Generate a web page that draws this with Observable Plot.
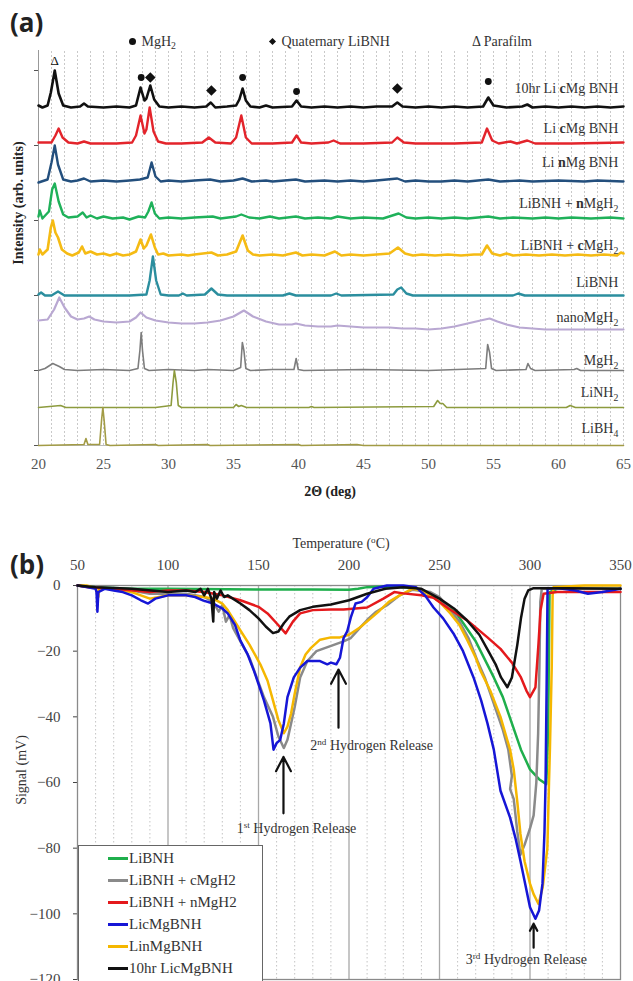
<!DOCTYPE html>
<html><head><meta charset="utf-8">
<script src="https://cdn.jsdelivr.net/npm/d3@7"></script>
<script src="https://cdn.jsdelivr.net/npm/@observablehq/plot@0.6"></script>
<style>
body{margin:0;background:#fff;}
#root{position:relative;width:633px;height:981px;overflow:hidden;font-family:"Liberation Serif","Times New Roman",Times,"DejaVu Serif",serif;color:#333;}
.abs{position:absolute;white-space:nowrap;line-height:1;}
.panel{position:absolute;left:0;}
.tag{font-family:"Open Sans",sans-serif;font-weight:700;font-size:26px;color:#222;}
sub{font-size:70%;vertical-align:-3px;line-height:0;}
sup{font-size:65%;vertical-align:5px;line-height:0;}
.rot{transform:translate(-50%,-50%) rotate(-90deg);}
.ctr{transform:translate(-50%,-50%);}
.dotg{display:inline-block;width:7px;height:7px;border-radius:50%;background:#111;vertical-align:1px;margin-right:2px;}
.diag{display:inline-block;width:5px;height:5px;background:#111;transform:rotate(45deg);vertical-align:2px;margin-right:3px;margin-left:1px;}
#legB{position:absolute;left:78px;top:845px;width:185px;height:150px;border:1px solid #666;background:#fff;box-sizing:border-box;font-size:15px;}
#legB .row{position:absolute;left:0;height:20px;display:flex;align-items:center;}
#legB .sw{display:inline-block;width:20px;height:3px;margin-left:29px;margin-right:1px;}
</style></head><body><div id="root">
<div id="panelA" class="panel" style="top:0"></div>
<div id="panelB" class="panel" style="top:500px"></div>
<div class="abs tag" style="left:10px;top:9px">(a)</div>
<div class="abs tag" style="left:10px;top:551px">(b)</div>
<div class="abs" style="left:129px;top:35px;font-size:14px"><span class="dotg"></span> MgH<sub>2</sub></div>
<div class="abs" style="left:269px;top:35px;font-size:14px"><span class="diag"></span> Quaternary LiBNH</div>
<div class="abs" style="left:472px;top:35px;font-size:14px">Δ Parafilm</div>
<div class="abs rot" style="left:19px;top:203px;font-size:14px;font-weight:bold;color:#222">Intensity (arb. units)</div>
<div class="abs ctr" style="left:330px;top:492px;font-size:14px;font-weight:bold;color:#222">2Θ (deg)</div>
<div class="abs ctr" style="left:341px;top:544px;font-size:14px">Temperature (<sup>o</sup>C)</div>
<div class="abs rot" style="left:22px;top:770px;font-size:14px">Signal (mV)</div>
<div id="legB"></div>
</div>
<script>
const SERIF = '"Liberation Serif", "Times New Roman", Times, "DejaVu Serif", serif';
// ---------------- Panel (a): XRD ----------------
const xrdNames = ["10hr Li *c*Mg BNH","Li *c*Mg BNH","Li *n*Mg BNH","LiBNH + *n*MgH_2","LiBNH + *c*MgH_2","LiBNH","nanoMgH_2","MgH_2","LiNH_2","LiBH_4"];
const xrdOffsets = [338, 302, 263, 226, 188, 150, 116, 75, 38, 0];
const xrdLabelY = [357, 317, 283, 242, 200, 163, 128, 85, 53, 17];
const xrdColors = ["#111111","#e3242b","#234f7d","#1fb15a","#f5bb14","#2b8e9e","#b9a8d2","#7d7d7d","#8d9b3e","#a29b45"];
const xrdWidths = [2.6, 2.4, 2.4, 2.4, 2.6, 2.4, 2.2, 1.6, 1.6, 1.6];

const xrd10hr = [[20,2],[20.3,0],[20.7,2],[20.95,15],[21.25,37],[21.55,14],[21.9,2],[22.5,0],[23.2,1],[23.5,4],[23.8,1],[25,0],[26,1],[27,0],[27.5,2],[27.85,20],[28.15,7],[28.3,9],[28.6,22],[28.9,8],[29.3,1],[30,0],[31,1],[32,0],[32.9,1],[33.25,5],[33.6,0],[34.5,1],[35.2,2],[35.45,8],[35.7,19],[35.95,7],[36.3,1],[37,0],[37.5,2],[38,0],[39.5,1],[39.85,7],[40.2,1],[41,0],[42,1],[43,0],[44,1],[45,0],[46,1],[47.2,1],[47.6,5],[48,1],[49,0],[50,1],[51,0],[52,1],[53,0],[54.2,1],[54.6,10],[55,2],[56,0],[57.2,1],[57.6,3],[58,0],[59,1],[60,0],[61,1],[62,0],[63,1],[64,0],[65,1]];
const xrdLicMg = [[20,1],[21,1],[21.3,8],[21.55,15],[21.85,6],[22.3,1],[23,0],[23.5,2],[24,0],[26,0],[27.2,1],[27.5,8],[27.85,28],[28.15,10],[28.3,14],[28.55,36],[28.85,12],[29.2,2],[29.8,0],[31,0],[32.6,1],[33.1,6],[33.6,1],[34.8,0],[35.2,6],[35.6,28],[35.95,6],[36.4,0],[38,0],[39.5,1],[39.85,8],[40.2,1],[41,0],[42.3,1],[42.7,3],[43.2,0],[45,0],[47.2,1],[47.6,6],[48.1,1],[49,0],[52,0],[54.1,1],[54.5,15],[54.9,3],[55.4,0],[56.3,2],[56.8,0],[57.6,3],[58.2,0],[61,0],[65,1]];
const xrdLinMg = [[20,0],[20.7,3],[21,20],[21.25,37],[21.5,18],[21.9,3],[22.5,1],[23,2],[23.5,4],[24,1],[25,2],[26,1],[27,2],[27.8,3],[28.4,5],[28.7,20],[29,6],[29.4,1],[30,2],[31,1],[32,2],[33.2,3],[34,1],[35,2],[35.7,4],[36.4,1],[37.5,2],[38,1],[39.8,3],[40.5,1],[42,2],[43,1],[44,2],[45,1],[46,2],[47.6,4],[48.2,1],[49,2],[50,1],[51,1],[52,2],[53,1],[54.6,3],[55.5,1],[57,2],[58,1],[60,2],[62,1],[63,2],[65,1]];
const xrdBNHnMg = [[20,3],[20.1,9],[20.3,1],[20.8,8],[21.05,30],[21.25,36],[21.55,18],[21.9,5],[22.3,2],[23,3],[23.4,7],[23.7,2],[24,4],[24.5,1],[25,3],[25.7,1],[26.5,2],[27,0],[27.7,3],[28.2,2],[28.45,8],[28.7,17],[28.95,6],[29.3,1],[30,2],[31,1],[32,2],[33.4,3],[34,1],[35.2,3],[35.6,5],[36.2,2],[37,1],[37.8,3],[38.5,1],[39.8,3],[40.5,1],[41.5,2],[42.5,1],[43,3],[44,1],[45,2],[46.5,1],[47.7,6],[48.3,2],[49,1],[50,2],[51,1],[52,2],[53,1],[54.6,3],[55.5,1],[56.5,2],[58,1],[59,2],[60,1],[61,2],[62.5,1],[64,2],[65,1]];
const xrdBNHcMg = [[20,3],[20.1,8],[20.3,3],[20.7,8],[20.95,30],[21.1,37],[21.3,25],[21.5,20],[21.8,8],[22.2,4],[22.6,2],[23.1,5],[23.35,11],[23.6,4],[24,6],[24.5,3],[25,4],[25.5,2],[26,4],[26.5,2],[27,3],[27.5,6],[27.85,18],[28.1,9],[28.3,12],[28.65,23],[28.95,10],[29.2,3],[29.6,4],[30,2],[31,3],[31.5,2],[32,3],[33.3,5],[33.8,2],[34.5,3],[35.2,6],[35.7,22],[36.1,7],[36.5,3],[37,2],[38,3],[38.8,2],[39.8,5],[40.3,2],[41,3],[42,2],[42.8,6],[43.3,2],[44,3],[45,2],[46,3],[47,4],[47.65,10],[48.2,4],[48.8,2],[49.5,3],[50.5,2],[51.5,3],[52.5,2],[53.5,3],[54.1,3],[54.5,12],[54.9,4],[55.5,2],[56,4],[56.5,2],[57.5,3],[58.5,2],[59.5,3],[60.5,2],[61.5,3],[62.5,2],[63.5,3],[64.5,2],[64.8,5],[65,4]];
const xrdLiBNH = [[20,1],[20.2,3],[20.5,0],[21,0],[21.5,4],[22,0],[27,0],[28.3,1],[28.55,15],[28.8,39],[29.05,15],[29.4,1],[30,0],[30.8,0],[31.1,2],[31.4,0],[32.8,1],[33.3,7],[33.8,1],[34.5,0],[38.8,0],[39.3,2],[39.8,0],[42.5,0],[42.9,2],[43.3,0],[47.3,1],[47.6,6],[47.9,8],[48.3,2],[48.8,0],[51,0],[55,0],[56.5,0],[56.9,2],[57.4,0],[60,0],[65,0]];
const xrdNanoMgH2 = [[20,9],[20.7,10],[21.2,20],[21.6,32],[22,22],[22.5,13],[23,10],[23.5,11],[23.9,13],[24.3,10],[25,8],[26,7],[27,8],[27.5,12],[27.85,17],[28.3,12],[29,9],[30,7],[31,6],[32,6],[33,7],[34,9],[35,13],[35.8,19],[36.5,13],[37.5,8],[38.5,5],[39.5,5],[39.8,6],[40.5,4],[41.5,3],[42.5,3],[43,4],[44,3],[45,2],[46,2],[47,2],[48,1],[49,1],[50,0],[51,1],[52,3],[53,6],[54,9],[54.7,11],[55.3,8],[56,5],[57,2],[58,1],[59,0],[61,0],[65,0]];
const xrdMgH2 = [[20,0],[20.5,2],[21.1,7],[21.6,4],[22,1],[23,0],[25,1],[27,0],[27.65,2],[27.8,20],[27.9,38],[28.0,20],[28.15,2],[28.5,0],[30,1],[32,0],[33,1],[35,0],[35.55,3],[35.68,28],[35.8,20],[35.95,2],[36.3,0],[38,1],[39.65,1],[39.82,12],[39.98,1],[40.4,0],[45,1],[50,0],[54.4,2],[54.55,26],[54.7,18],[54.85,2],[55.2,0],[57.5,1],[57.65,7],[57.85,2],[58.2,0],[61.2,1],[61.4,2],[61.7,0],[65,0]];
const xrdLiNH2 = [[20,0],[21.7,2],[22.1,0],[25,0],[29,0],[30.2,2],[30.35,25],[30.45,37],[30.6,25],[30.75,2],[31,0],[35,0],[35.2,3],[35.4,1],[35.6,2],[36,0],[40.8,0],[41,1],[41.2,0],[50.4,1],[50.7,7],[50.9,4],[51.1,4],[51.4,0],[60.6,0],[60.9,2],[61.3,0],[65,0]];
const xrdLiBH4 = [[20,0],[23.5,1],[23.65,7],[23.8,1],[24.7,1],[24.85,25],[24.95,38],[25.05,25],[25.2,1],[25.5,0],[29,1],[29.2,0],[33,1],[33.2,0],[40,1],[40.2,0],[44.5,1],[45,0],[65,0]];
const xrdSeries = [xrd10hr, xrdLicMg, xrdLinMg, xrdBNHnMg, xrdBNHcMg, xrdLiBNH, xrdNanoMgH2, xrdMgH2, xrdLiNH2, xrdLiBH4];

// peak markers over the top trace: [2theta, height, kind]
const peakMarks = [[21.25,385,"parafilm"],[27.9,368,"MgH2"],[28.6,368,"LiBNH"],[33.3,355,"LiBNH"],[35.7,368,"MgH2"],[39.85,354,"MgH2"],[47.6,357,"LiBNH"],[54.6,364,"MgH2"]];
const xTicksA = [20,25,30,35,40,45,50,55,60,65];
const gridA = d3.range(20, 66, 1);
const yTicksA = [0,75,150,225,300,375];

// ---------------- Panel (b): DSC ----------------
const dscNames = ["LiBNH","LiBNH + cMgH2","LiBNH + nMgH2","LicMgBNH","LinMgBNH","10hr LicMgBNH"];
const dscColors = ["#1faf4c","#8a8a8a","#e4191c","#1616d6","#f5b700","#111111"];
const dscLiBNH = [[50,0],[60,-0.5],[80,-1],[100,-1],[150,-1.2],[180,-1.2],[200,-1.3],[205,-1],[210,-0.5],[220,-0.3],[230,-0.5],[240,-1.5],[250,-4],[260,-9],[270,-17],[280,-28],[285,-34],[290,-42],[295,-50],[300,-56],[305,-59],[309,-60.5],[310,-45],[310.8,-2],[315,-1],[330,-1],[350,-1]];
const dscCMg = [[50,0],[60,-0.5],[70,-1],[80,-1.5],[90,-2.5],[100,-2.5],[110,-2.5],[115,-3],[120,-3.5],[125,-5],[128,-8],[130,-6],[132,-11],[134,-9],[136,-13],[140,-17],[145,-22],[149,-28],[153,-34],[158,-40],[161,-46],[164,-49.5],[166,-47],[168,-42],[170,-37],[173,-28],[177,-23],[182,-20],[187,-19],[192,-18],[197,-17],[201,-16],[205,-13.5],[210,-10.5],[215,-8],[221,-6],[228,-3],[235,-1.3],[245,-2],[250,-3.5],[256,-7.5],[261,-11],[266,-16],[271,-23],[275,-28],[280,-36],[285,-44],[288,-50],[290,-58],[289,-62],[291,-65],[293,-75],[294.7,-82],[297,-79],[300,-74],[302,-70],[303.5,-60],[304.5,-45],[305.2,-25],[305.7,-5],[306.5,-1],[320,-1],[350,-1]];
const dscNMg = [[50,0],[57,-0.6],[70,-1],[81,-1.5],[90,-2],[100,-1.5],[110,-1.5],[120,-2],[130,-3],[140,-4.5],[150,-6.5],[155,-8.5],[160,-11.5],[165,-14.6],[169,-11],[173,-8.5],[180,-7.5],[190,-7.3],[197,-7.3],[210,-6.7],[219,-4],[225,-2],[230,-2.4],[240,-3],[246.7,-3.7],[255,-7],[265.5,-10.7],[276.5,-15.8],[283.7,-19.3],[290,-23.5],[295,-28],[298,-32],[300,-34],[303,-31],[304.7,-17.7],[305.8,-7.6],[307.5,-2.5],[315,-2],[330,-2],[350,-2]];
const dscLicMg = [[50,0],[55,-0.5],[60,-1],[60.5,-2],[61,-8],[61.5,-2],[65,-1],[70,-1.5],[75,-2],[80,-3],[85,-4.5],[89,-5.5],[93,-4],[100,-3],[110,-3],[115,-3.5],[119.6,-4.6],[125,-5.5],[130,-7],[133,-8.5],[137,-12],[140,-16.8],[144,-21],[147.5,-26],[150,-30],[153,-35],[156.6,-42],[158.3,-50],[160,-48],[162,-47],[164,-42],[166,-34],[169.5,-28],[173,-25],[177,-23],[184,-23],[188,-24],[190,-23.5],[193,-24],[195,-22],[197,-16],[199,-14],[201,-9.7],[203.6,-5.5],[207,-5],[210,-3.6],[213.6,-1],[221,0],[230,0],[237,-0.5],[242,-3],[246.7,-6.7],[252,-10],[257.7,-14.6],[263,-20],[268.8,-28],[273,-35],[276.5,-42],[280,-50],[283.7,-62.5],[289,-70.7],[292,-77],[294.7,-83.8],[297,-90],[300,-98],[303,-101.5],[305,-99],[306.9,-90.8],[308,-75],[308.6,-60],[309.2,-30],[309.7,-1],[315,-0.8],[325,-1.5],[332,-2.5],[340,-2],[350,-1]];
const dscLinMg = [[50,0],[55,0],[60,-0.8],[61.5,-3.5],[62,-0.8],[70,-1.2],[80,-2],[90,-4],[95,-3.5],[100,-3],[110,-3],[120,-3.5],[125,-4],[130,-5.5],[133,-7.5],[137,-11],[140,-13.7],[145,-18],[151,-24],[155,-29],[158,-35],[161,-41],[164,-45],[166,-43],[168,-39],[170,-33],[173,-25],[176,-21],[179,-19],[184,-16.5],[190,-15.8],[195,-15.8],[200,-15],[206,-12.8],[212,-10],[217,-7.6],[222,-5],[228,-3],[235,-1],[240,-1.5],[245,-3],[250,-5],[256,-8.5],[261,-12],[265.5,-16.8],[270,-22],[272.7,-26],[278,-32],[283.7,-40],[289,-50],[291,-56],[293,-66],[294.7,-75.6],[297,-84],[300,-90.8],[302,-94],[304.7,-97],[307,-92],[309.6,-80],[310.5,-60],[311,-50],[312,-25],[312.5,-3],[313,-0.5],[330,0],[350,0]];
const dsc10hr = [[50,0],[60,-0.5],[80,-1],[100,-2],[110,-1.5],[115,-2],[118,-1],[120,-3],[122,-1],[124,-4],[125,-11],[125.5,-2],[127,-4],[129,-1.5],[131,-3.5],[133,-3],[140,-5.5],[145,-7.5],[150,-10],[154,-12.5],[158,-14.5],[161,-14],[164,-11.5],[167,-9.5],[173,-7.5],[180,-6.5],[190,-5.8],[200,-4.5],[210,-2.5],[220,-1],[230,-0.5],[240,-1],[250,-4],[258,-7],[265,-10.5],[272,-15],[277,-20],[281,-24],[284,-28],[287.5,-31],[290,-28],[293,-18],[295,-10],[297,-4],[299,-1.5],[302,-0.8],[320,-0.8],[350,-1]];
const dscSeries = [dscLiBNH, dscCMg, dscNMg, dscLicMg, dscLinMg, dsc10hr];
const dscDrawOrder = [0, 1, 4, 2, 3, 5];

const xTicksB = [50,100,150,200,250,300,350];
const majorGridB = [100,150,200,250,300];
const minorGridB = d3.range(60, 350, 10).filter(v => v % 50 !== 0);
const yTicksB = [-120,-100,-80,-60,-40,-20,0];

// annotations: text label positions and arrows (temperature, signal)
const releaseText = [
  {x: 171, y: -74, t: "1^st^ Hydrogen Release"},
  {x: 212.5, y: -48.7, t: "2^nd^ Hydrogen Release"},
  {x: 298, y: -114, t: "3^rd^ Hydrogen Release"}
];
const releaseArrows = [
  {x: 163.8, y1: -69.4, y2: -52.2},
  {x: 194.2, y1: -43.3, y2: -25.6},
  {x: 302, y1: -110.3, y2: -103.0}
];

// square diamond symbol (◆)
const squareDiamond = {draw(context, size) {
  const r = Math.sqrt(size) * 0.62;
  context.moveTo(0, -r); context.lineTo(r, 0); context.lineTo(0, r); context.lineTo(-r, 0); context.closePath();
}};

// ---------- build ----------
const xrdRows = [];
xrdSeries.forEach((pts, i) => pts.forEach(([x, v]) => xrdRows.push({name: xrdNames[i], i, x, y: xrdOffsets[i] + v})));
const xrdLabels = xrdNames.map((n, i) => ({n, y: xrdLabelY[i]}));

const plotA = Plot.plot({
  width: 633, height: 500,
  marginTop: 50, marginBottom: 55, marginLeft: 38, marginRight: 10,
  style: {fontFamily: SERIF, fontSize: "15px", color: "#555", background: "transparent"},
  x: {domain: [20, 65], ticks: xTicksA, tickSize: 0, tickPadding: 13, label: null},
  y: {domain: [0, 395], ticks: yTicksA, tickFormat: () => "", tickSize: 4, label: null},
  marks: [
    Plot.ruleX(gridA, {y1: 0, y2: 395, stroke: "#c9c9c9", strokeDasharray: "2,2", strokeWidth: 1}),
    Plot.ruleX([20], {y1: 0, y2: 395, stroke: "#999"}),
    Plot.ruleY([0], {stroke: "#bbb"}),
    ...xrdSeries.map((_, i) => Plot.line(xrdRows.filter(d => d.i === i), {x: "x", y: "y", stroke: xrdColors[i], strokeWidth: xrdWidths[i], strokeLinejoin: "round"})),
    Plot.dot(peakMarks.filter(d => d[2] === "MgH2"), {x: d => d[0], y: d => d[1], r: 3.4, fill: "#111", stroke: "none"}),
    Plot.dot(peakMarks.filter(d => d[2] === "LiBNH"), {x: d => d[0], y: d => d[1], r: 4.8, symbol: squareDiamond, fill: "#111", stroke: "none"}),
    Plot.text(peakMarks.filter(d => d[2] === "parafilm"), {x: d => d[0], y: d => d[1], text: () => "Δ", fontSize: 13, fill: "#111"}),
    Plot.text(xrdLabels, {x: 64.6, y: "y", text: "n", textAnchor: "end", fontSize: 14, fill: "#333"})
  ]
});
document.getElementById("panelA").append(plotA);

const dscRows = [];
dscSeries.forEach((pts, i) => pts.forEach(([x, v]) => dscRows.push({i, x, y: v})));

const plotB = Plot.plot({
  width: 633, height: 481,
  marginTop: 85, marginBottom: 2, marginLeft: 77, marginRight: 13,
  style: {fontFamily: SERIF, fontSize: "15px", color: "#444", background: "transparent"},
  x: {domain: [50, 350], axis: "top", ticks: xTicksB, tickSize: 0, tickPadding: 16, label: null},
  y: {domain: [-120, 0], ticks: yTicksB, tickSize: 4, tickPadding: 13, label: null},
  marks: [
    Plot.ruleX(minorGridB, {stroke: "#c4c4c4", strokeDasharray: "1.5,2.5"}),
    Plot.ruleX(majorGridB, {stroke: "#a8a8a8", strokeWidth: 1.3}),
    Plot.frame({stroke: "#8a8a8a", strokeWidth: 1.3}),
    ...dscDrawOrder.map(i => Plot.line(dscRows.filter(d => d.i === i), {x: "x", y: "y", stroke: dscColors[i], strokeWidth: 2.5, strokeLinejoin: "round"})),
    Plot.arrow(releaseArrows, {x1: "x", y1: "y1", x2: "x", y2: "y2", stroke: "#111", strokeWidth: 2.2, headLength: 11, headAngle: 55}),
    Plot.text(releaseText, {x: "x", y: "y", text: "t", fontSize: 14, fill: "#333"})
  ]
});
document.getElementById("panelB").append(plotB);

// rich text: *bold*, _x subscript, ^sup^ superscript
function richify(svg) {
  svg.querySelectorAll("text").forEach(t => {
    const s = t.textContent;
    if (!/[\^_*]/.test(s)) return;
    while (t.firstChild) t.removeChild(t.firstChild);
    const re = /\*([^*]+)\*|\^([^^]+)\^|_(\w)|([^*^_]+)/g;
    let m, shift = 0;
    const ns = "http://www.w3.org/2000/svg";
    while ((m = re.exec(s))) {
      const ts = document.createElementNS(ns, "tspan");
      let dy = 0;
      if (m[1]) { ts.textContent = m[1]; ts.setAttribute("font-weight", "bold"); }
      else if (m[2]) { ts.textContent = m[2]; ts.setAttribute("font-size", "65%"); dy = -5; }
      else if (m[3]) { ts.textContent = m[3]; ts.setAttribute("font-size", "70%"); dy = 4; }
      else { ts.textContent = m[4]; }
      const d = dy - shift;
      if (d) ts.setAttribute("dy", d);
      shift = dy;
      t.appendChild(ts);
    }
  });
}
richify(plotA); richify(plotB);

// legend for panel (b)
const leg = document.getElementById("legB");
const rowTops = [2, 24, 46, 68, 90, 112];
dscNames.forEach((n, i) => {
  const r = document.createElement("div");
  r.className = "row";
  r.style.top = rowTops[i] + "px";
  r.innerHTML = `<span class="sw" style="background:${dscColors[i]}"></span><span>${n}</span>`;
  leg.append(r);
});
</script>
</body></html>
